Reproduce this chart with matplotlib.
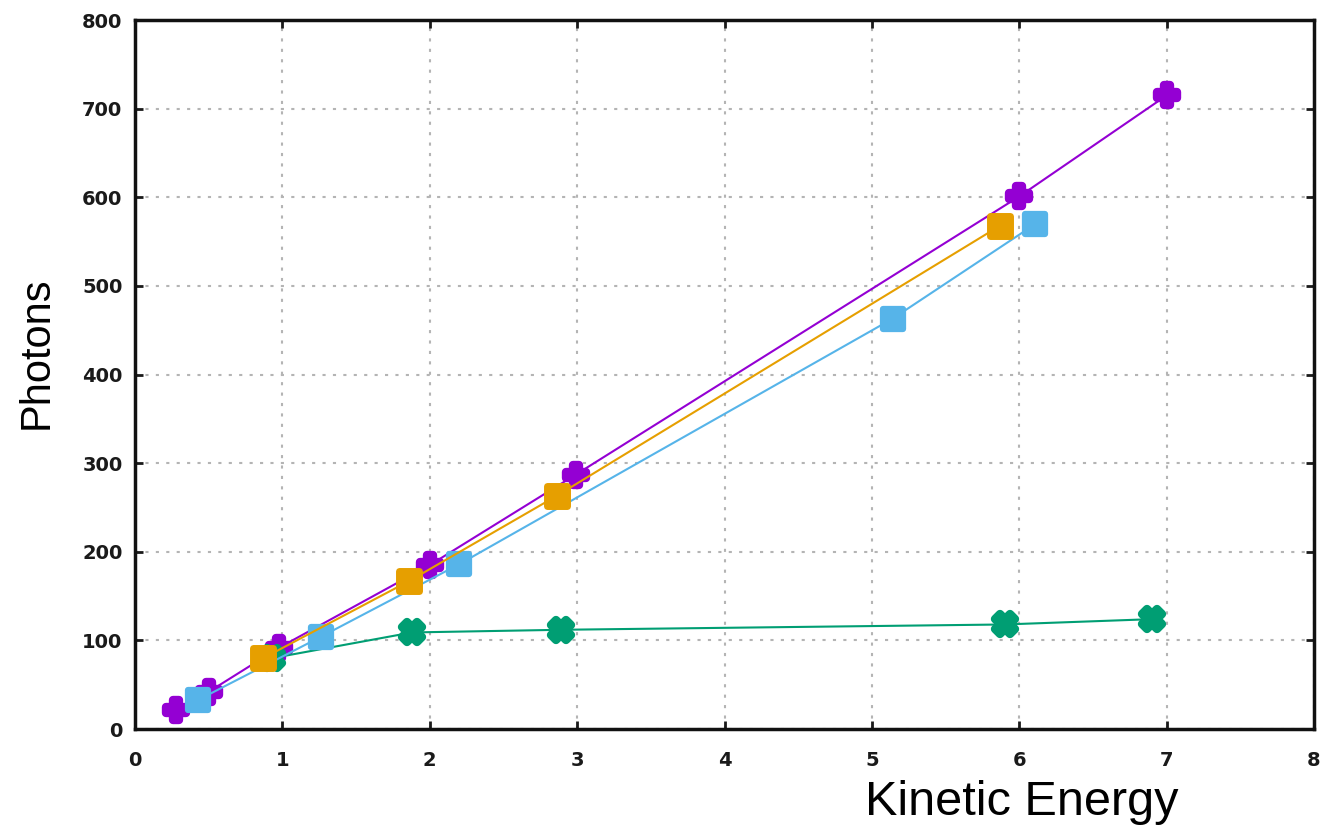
import matplotlib
matplotlib.use("Agg")
import matplotlib.pyplot as plt
from matplotlib.markers import MarkerStyle

# data
purple_x = [0.28, 0.50, 0.98, 2.00, 2.99, 6.00, 7.00]
purple_y = [22, 42, 92, 185, 287, 601, 715]

green_x = [0.93, 1.88, 2.89, 5.90, 6.90]
green_y = [80, 109, 112, 118, 124]

blue_x = [0.43, 1.26, 2.20, 5.14, 6.11]
blue_y = [33, 104, 186, 463, 570]

orange_x = [0.87, 1.86, 2.86, 5.87]
orange_y = [80, 167, 263, 568]

x_ticks = list(range(0, 9))
y_ticks = list(range(0, 801, 100))

fig = plt.figure(figsize=(13.3, 8.33), dpi=100)
ax = fig.add_axes([0.1015, 0.1248, 0.8865, 0.8511])


def rounded(m):
    return MarkerStyle(m, joinstyle="round")


ax.plot(purple_x, purple_y, color="#9400D3", lw=1.5, marker=rounded("P"),
        ms=14, mew=6, zorder=3)
ax.plot(green_x, green_y, color="#009E73", lw=1.5, marker=rounded("X"),
        ms=14, mew=6, zorder=4)
ax.plot(blue_x, blue_y, color="#56B4E9", lw=1.5, marker=rounded("s"),
        ms=14, mew=4.5, zorder=5)
ax.plot(orange_x, orange_y, color="#E69F00", lw=1.5, marker=rounded("s"),
        ms=14, mew=5, zorder=6)
for ln in ax.lines:
    ln.set_solid_joinstyle("round")
    ln.set_markeredgecolor(ln.get_color())

ax.set_xlim(0, 8)
ax.set_ylim(0, 800)
ax.set_xticks(x_ticks)
ax.set_yticks(y_ticks)
ax.grid(True, color="#b4b4b4", lw=1.5, linestyle=(0, (1.5, 3.5)))
ax.set_axisbelow(True)

ax.tick_params(direction="in", length=6, width=2, top=True, right=True,
               labelsize=15, colors="#1a1a1a")
ax.tick_params(axis="x", pad=16)
ax.tick_params(axis="y", pad=9)
for lab in ax.get_xticklabels() + ax.get_yticklabels():
    lab.set_fontweight("bold")
    lab.set_fontsize(14)
for sp in ax.spines.values():
    sp.set_linewidth(2.5)
    sp.set_color("#111111")

fig.text(865 / 1330, 0.0216, "Kinetic Energy", fontsize=35,
         family="Liberation Sans", ha="left", va="baseline")
fig.text(37 / 1330, 0.577, "Photons", fontsize=30, rotation=90,
         family="Liberation Sans", ha="center", va="center")

fig.savefig("out.png", dpi=100)
